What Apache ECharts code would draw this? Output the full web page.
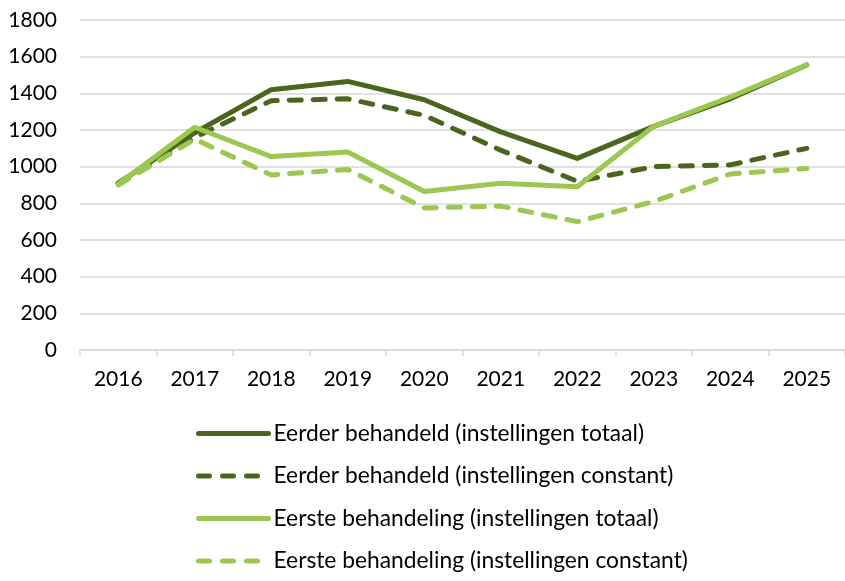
<!DOCTYPE html>
<html>
<head>
<meta charset="utf-8">
<script src="https://cdn.jsdelivr.net/npm/echarts@6/dist/echarts.min.js"></script>
<style>
  html, body { margin: 0; padding: 0; background: #ffffff; }
  #chart { width: 845px; height: 581px; }
</style>
</head>
<body>
<div id="chart"></div>
<script>
// Years on the category axis
const years = ['2016', '2017', '2018', '2019', '2020', '2021', '2022', '2023', '2024', '2025'];

// Series values per year
const eerderTotaal = [910, 1185, 1420, 1465, 1365, 1190, 1045, 1220, 1370, 1555];
const eerderConstant = [910, 1160, 1360, 1370, 1280, 1090, 920, 1000, 1010, 1100];
const eersteTotaal = [905, 1215, 1055, 1080, 865, 910, 890, 1220, 1380, 1555];
const eersteConstant = [900, 1150, 955, 985, 775, 785, 700, 810, 960, 990];

// Series names
const seriesNames = [
  'Eerder behandeld (instellingen totaal)',
  'Eerder behandeld (instellingen constant)',
  'Eerste behandeling (instellingen totaal)',
  'Eerste behandeling (instellingen constant)'
];

const DARK = '#4B641E';
const LIGHT = '#9CC750';
const FONT = 'Lato, "Open Sans", sans-serif';
const DASH = [12, 12];
const LEGEND_DASH = [11, 13];

function lineSeries(name, data, color, dashed) {
  return {
    name: name,
    type: 'line',
    data: data,
    symbol: 'none',
    showSymbol: false,
    smooth: false,
    lineStyle: {
      color: color,
      width: 5,
      type: dashed ? DASH : 'solid',
      cap: 'round',
      join: 'round'
    },
    itemStyle: { color: color }
  };
}

const chart = echarts.init(document.getElementById('chart'), null, { renderer: 'canvas' });

chart.setOption({
  animation: false,
  backgroundColor: '#ffffff',
  grid: {
    left: 80,
    top: 20,
    width: 770,
    height: 330,
    containLabel: false
  },
  xAxis: {
    type: 'category',
    data: years,
    boundaryGap: true,
    axisLine: { show: true, lineStyle: { color: '#d9d9d9', width: 1.5 } },
    axisTick: { show: true, alignWithLabel: false, length: 6, lineStyle: { color: '#d9d9d9', width: 1.5 } },
    axisLabel: { color: '#000000', fontSize: 21, fontFamily: FONT, margin: 19 }
  },
  yAxis: {
    type: 'value',
    min: 0,
    max: 1800,
    interval: 200,
    axisLine: { show: false },
    axisTick: { show: false },
    splitLine: { show: true, lineStyle: { color: '#d9d9d9', width: 1.5 } },
    axisLabel: {
      color: '#000000', fontSize: 21, fontFamily: FONT, margin: 23,
      formatter: function (v) { return String(v); }
    }
  },
  legend: {
    orient: 'vertical',
    left: 191,
    top: 417,
    itemWidth: 70,
    itemHeight: 24,
    itemGap: 19.5,
    itemStyle: { opacity: 0 },
    lineStyle: { width: 5, cap: 'round' },
    textStyle: { color: '#000000', fontSize: 22.8, fontFamily: FONT },
    data: [
      { name: seriesNames[0] },
      { name: seriesNames[1], lineStyle: { type: LEGEND_DASH } },
      { name: seriesNames[2] },
      { name: seriesNames[3], lineStyle: { type: LEGEND_DASH } }
    ]
  },
  series: [
    lineSeries(seriesNames[0], eerderTotaal, DARK, false),
    lineSeries(seriesNames[1], eerderConstant, DARK, true),
    lineSeries(seriesNames[2], eersteTotaal, LIGHT, false),
    lineSeries(seriesNames[3], eersteConstant, LIGHT, true)
  ]
});
</script>
</body>
</html>
